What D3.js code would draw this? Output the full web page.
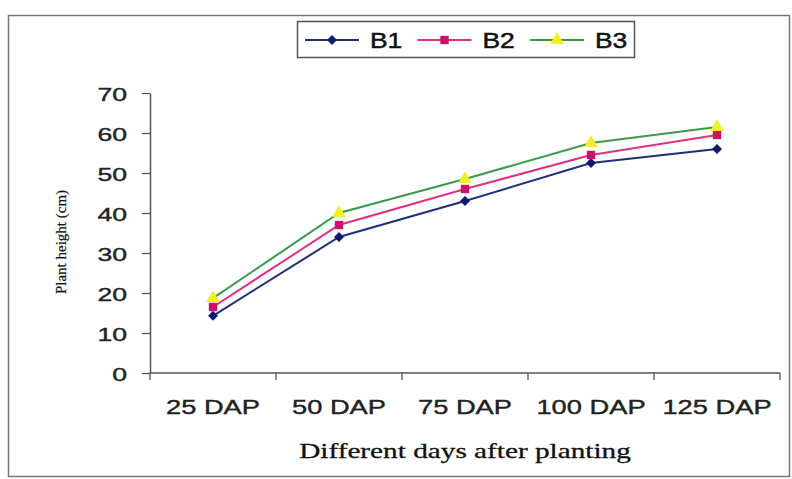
<!DOCTYPE html>
<html><head><meta charset="utf-8">
<script src="https://cdn.jsdelivr.net/npm/d3@7"></script>
<style>body{margin:0;background:#fff}svg{display:block}</style>
</head><body>
<script>
const categories = ["25 DAP","50 DAP","75 DAP","100 DAP","125 DAP"];
const seriesNames = ["B1","B2","B3"];
const B1 = [14.3, 34, 43, 52.5, 56];
const B2 = [16.5, 37, 46, 54.5, 59.5];
const B3 = [18.7, 40, 48.5, 57.5, 61.5];
const yTicks = [0,10,20,30,40,50,60,70];

const W = 792, H = 479;
const svg = d3.select("body").append("svg").attr("width", W).attr("height", H);
const sans = "Liberation Sans, Arial, sans-serif";
const serif = "Liberation Serif, Times New Roman, serif";

// outer frame
svg.append("rect").attr("x",8.5).attr("y",15.5).attr("width",781).attr("height",461)
  .attr("fill","none").attr("stroke","#777").attr("stroke-width",1.5);

const x = d3.scaleBand().domain(categories).range([150,780]).padding(0);
const y = d3.scaleLinear().domain([0,70]).range([373,93]);

// y axis
const yAx = svg.append("g").attr("transform","translate(150,0)")
  .call(d3.axisLeft(y).tickValues(yTicks).tickSize(8).tickSizeOuter(0).tickFormat(d3.format("d")));
yAx.select(".domain").attr("stroke","#555").attr("stroke-width",1.5);
yAx.selectAll(".tick line").attr("stroke","#555").attr("stroke-width",1.3);
yAx.selectAll(".tick text").remove();
yAx.selectAll(".tick").append("text")
  .attr("transform","translate(-23,7) scale(1.4,1)")
  .attr("text-anchor","end").attr("fill","#222").attr("stroke","#222").attr("stroke-width",0.4)
  .style("font-family",sans).style("font-size","19px")
  .text(d=>d);

// x axis
const xAx = svg.append("g").attr("transform","translate(0,373)");
xAx.append("line").attr("x1",150).attr("x2",780).attr("stroke","#555").attr("stroke-width",1.5);
const bounds = categories.map(c=>x(c)).concat([x.range()[1]]);
xAx.selectAll("line.tk").data(bounds).join("line").attr("class","tk")
  .attr("x1",d=>d).attr("x2",d=>d).attr("y1",0).attr("y2",7)
  .attr("stroke","#555").attr("stroke-width",1.3);
xAx.selectAll("text").data(categories).join("text")
  .attr("transform",d=>`translate(${x(d)+x.bandwidth()/2},41) scale(1.3,1)`)
  .attr("text-anchor","middle").attr("fill","#222").attr("stroke","#222").attr("stroke-width",0.4)
  .style("font-family",sans).style("font-size","21px")
  .text(d=>d);

// axis titles
svg.append("text")
  .attr("transform","translate(465,458) scale(1.33,1)")
  .attr("text-anchor","middle").attr("fill","#111").attr("stroke","#111").attr("stroke-width",0.3)
  .style("font-family",serif).style("font-size","22px")
  .text("Different days after planting");
svg.append("text")
  .attr("transform","translate(66,242) rotate(-90)")
  .attr("text-anchor","middle").attr("fill","#111").attr("stroke","#111").attr("stroke-width",0.2)
  .style("font-family",serif).style("font-size","15px")
  .text("Plant height (cm)");

const data = [B1,B2,B3];
const lineColors = ["#1f2f7a","#e0307f","#3a9a4a"];
const markColors = ["#0d1a70","#cc1166","#f2f020"];
const symbols = [d3.symbolSquare, d3.symbolSquare, d3.symbolTriangle];
const symSizes = [50, 70, 80];
const symRot = [45, 0, 0];

const line = d3.line().x((d,i)=>x(categories[i])+x.bandwidth()/2).y(d=>y(d));
data.forEach((vals,si)=>{
  svg.append("path").datum(vals).attr("d",line)
    .attr("fill","none").attr("stroke",lineColors[si]).attr("stroke-width",2);
});
data.forEach((vals,si)=>{
  svg.selectAll(null).data(vals).join("path")
    .attr("transform",(d,i)=>`translate(${x(categories[i])+x.bandwidth()/2},${y(d)}) rotate(${symRot[si]})`)
    .attr("d",d3.symbol().type(symbols[si]).size(symSizes[si]))
    .attr("fill",markColors[si]);
});

// legend
const lg = svg.append("g");
lg.append("rect").attr("x",297.5).attr("y",21.5).attr("width",337).attr("height",36)
  .attr("fill","#fff").attr("stroke","#555").attr("stroke-width",1.5);
const lx = d3.scalePoint().domain(seriesNames).range([332,557]);
seriesNames.forEach((n,si)=>{
  const cx = lx(n);
  lg.append("line").attr("x1",cx-27).attr("x2",cx+27).attr("y1",40).attr("y2",40)
    .attr("stroke",lineColors[si]).attr("stroke-width",2);
  lg.append("path").attr("transform",`translate(${cx},40) rotate(${symRot[si]})`)
    .attr("d",d3.symbol().type(symbols[si]).size(symSizes[si])).attr("fill",markColors[si]);
  lg.append("text").attr("transform",`translate(${cx+38},48) scale(1.2,1)`)
    .attr("fill","#111").attr("stroke","#111").attr("stroke-width",0.5)
    .style("font-family",sans).style("font-size","22px")
    .text(n);
});
</script>
</body></html>
